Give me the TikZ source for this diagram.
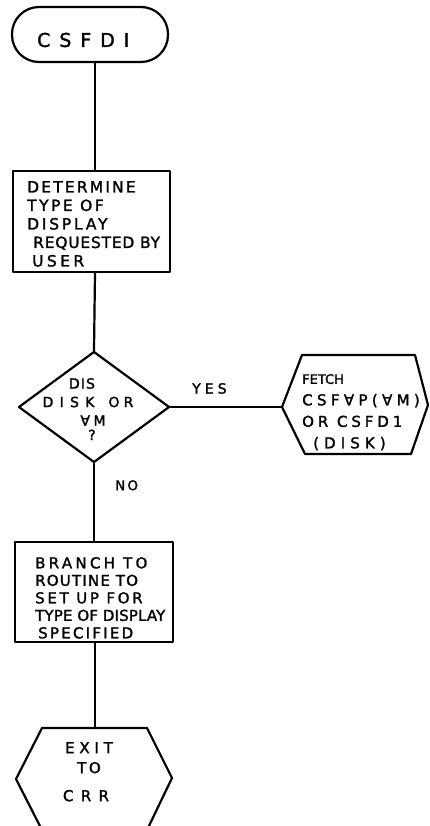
\documentclass[tikz,border=0pt]{standalone}
\usepackage{fontspec}
\setmainfont{DejaVu Sans}
\newfontfamily\hw[FakeBold=1.6]{DejaVu Sans}
\newcommand\lsp[2]{{\addfontfeature{LetterSpace=#1}#2}}
\usetikzlibrary{shapes.geometric}
\tikzset{
  stroke/.style={line width=2.2pt, line cap=round, line join=round},
  termbox/.style={draw, stroke, rounded corners=27pt, minimum width=156pt, minimum height=55pt, inner sep=0pt},
  procbox/.style={draw, stroke, minimum width=157pt, minimum height=101pt, inner sep=0pt},
  decbox/.style={draw, stroke, diamond, minimum width=151pt, minimum height=111pt, inner sep=0pt},
  hand/.style={inner sep=0pt, align=left, font=\hw\fontsize{15}{18.5}\selectfont},
  conn/.style={stroke}
}
\begin{document}
\begin{tikzpicture}[x=1pt,y=-1pt]
\useasboundingbox (0,0) rectangle (430,826);
\coordinate (spine) at (95,0);

% terminal
\node[termbox] (term) at (90,34.5) {};
\node[hand, anchor=west, font=\hw\fontsize{19}{22}\selectfont] (termtxt) at (37,40) {\lsp{47}{CSFDI}};

% box 1
\node[procbox] (box1) at (91.5,221.5) {};
\node[hand, anchor=north west, font=\hw\fontsize{15.5}{18.5}\selectfont] (box1txt) at (27,181)
  {\lsp{14}{DETERMINE}\\ \lsp{16}{TYPE OF}\\ \lsp{18}{DISPLAY}\\ \hspace*{6pt}\lsp{5}{REQUESTED BY}\\ \hspace*{5pt}\lsp{22}{USER}};

% decision
\node[decbox] (dia) at (94,407) {};
\node[hand, align=center, anchor=north, font=\hw\fontsize{14}{18.5}\selectfont] (diatxt) at (88,378)
  {\hspace*{-12pt}\lsp{8}{DIS}\\ \lsp{45}{DISK}\hspace{14pt}\lsp{30}{OR}\\ \hspace*{10pt}\lsp{25}{∀M}\\[-4pt] \hspace*{8pt}?};

% fetch hexagon
\coordinate (hexL) at (282,407);
\draw[stroke] (hexL) -- (302,355) -- (415,355) -- (428,405) -- (411,454) -- (305,454) -- cycle;
\node[hand, anchor=north west, font=\hw\fontsize{15}{21.5}\selectfont] (hextxt) at (302,374)
  {{\fontsize{13}{21.5}\selectfont FETCH}\\ \lsp{29}{CSF∀P(∀M)}\\ \lsp{26}{OR CSFD1}\\ \hspace*{11pt}\lsp{34}{(DISK)}};

% box 2
\node[procbox, minimum width=158pt, minimum height=100pt] (box2) at (94,592) {};
\node[hand, anchor=north west, font=\hw\fontsize{15}{17.5}\selectfont] (box2txt) at (35,557)
  {\lsp{22}{BRANCH TO}\\ \lsp{8}{ROUTINE TO}\\ \lsp{18}{SET UP FOR}\\ \lsp{1}{TYPE OF DISPLAY}\\ \hspace*{3pt}\lsp{15}{SPECIFIED}};

% exit hexagon
\coordinate (exittop) at (95,728);
\draw[stroke] (42,728) -- (147,728) -- (172,778) -- (147,830) -- (42,830) -- (16,779) -- cycle;
\node[hand, align=center, anchor=north, font=\hw\fontsize{15}{20}\selectfont] (exittxt) at (89,742)
  {\lsp{32}{EXIT}\\ \lsp{17}{TO}\\[8pt] \hspace*{-6pt}\lsp{49}{CRR}};

% labels
\node[hand, anchor=north west, font=\hw\fontsize{14}{16}\selectfont] (yes) at (192,383) {\lsp{29}{YES}};
\node[hand, anchor=north west, font=\hw\fontsize{13.5}{16}\selectfont] (no) at (115,480) {\lsp{16}{NO}};

% connectors
\draw[conn] (term.south -| spine) -- (box1.north -| spine);
\draw[conn] (box1.south -| spine) -- (dia.north);
\draw[conn] (dia.east) -- (hexL);
\draw[conn] (dia.south) -- (box2.north -| dia.south);
\draw[conn] (box2.south -| exittop) -- (exittop);
\end{tikzpicture}
\end{document}
